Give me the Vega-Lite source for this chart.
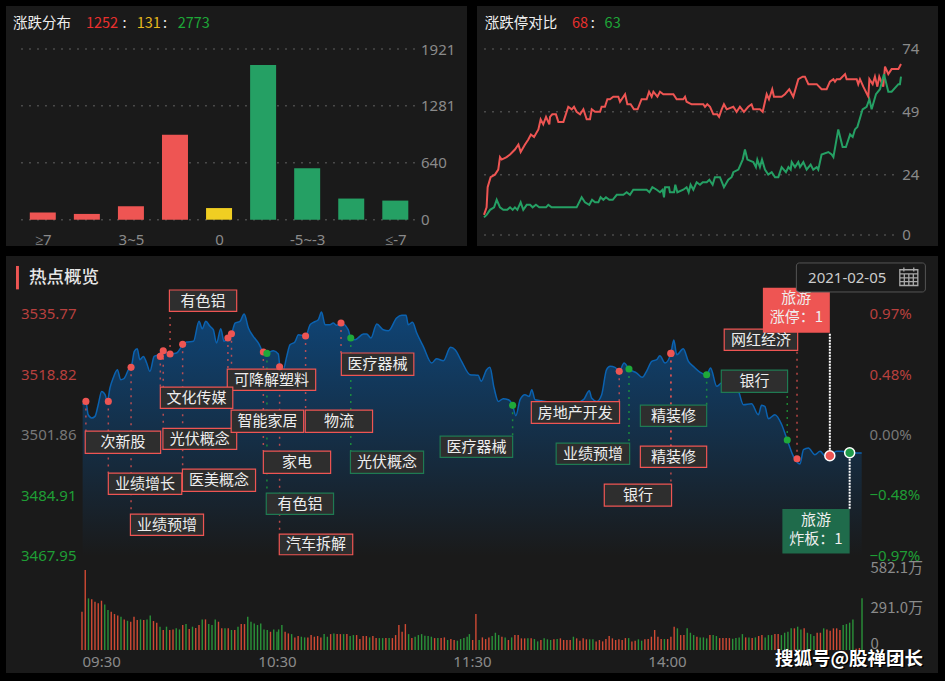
{
"$schema":"https://vega.github.io/schema/vega-lite/v6.json",
"background":"#000000",
"padding":{"left":6,"top":6,"right":7,"bottom":8},
"config":{"font":"Noto Sans CJK SC","view":{"stroke":null,"fill":"#1a1a1a"},"axis":{"domain":false,"ticks":false,"grid":false,"labelFont":"Noto Sans","labelFontSize":15,"labelColor":"#8a8a8a","labelPadding":0,"labelOverlap":false,"labelFlush":false,"labelBound":false}},
"datasets":{
"dist":[{"c":"≥7","pos":1,"n":80,"k":"up"},{"c":"5~7","pos":2,"n":65,"k":"up"},{"c":"3~5","pos":3,"n":150,"k":"up"},{"c":"0~3","pos":4,"n":957,"k":"up"},{"c":"0","pos":5,"n":131,"k":"flat"},{"c":"-3~0","pos":6,"n":1740,"k":"down"},{"c":"-5~-3","pos":7,"n":580,"k":"down"},{"c":"-7~-5","pos":8,"n":238,"k":"down"},{"c":"≤-7","pos":9,"n":215,"k":"down"}],
"limit":[
{"s":"up","t":0,"n":8},{"s":"up","t":1.5,"n":11},{"s":"up","t":2.1,"n":19},{"s":"up","t":3.8,"n":23},{"s":"up","t":6.3,"n":24},{"s":"up","t":8.2,"n":26},{"s":"up","t":9.2,"n":31},{"s":"up","t":10.2,"n":30},{"s":"up","t":13,"n":31},{"s":"up","t":15,"n":32},{"s":"up","t":17.8,"n":34},{"s":"up","t":19.8,"n":36},{"s":"up","t":21.1,"n":33},{"s":"up","t":23.6,"n":36},{"s":"up","t":25.5,"n":38},{"s":"up","t":27,"n":40},{"s":"up","t":28.8,"n":39},{"s":"up","t":31.3,"n":42},{"s":"up","t":32.6,"n":46},{"s":"up","t":34.1,"n":44},{"s":"up","t":35.7,"n":47},{"s":"up","t":37.6,"n":44},{"s":"up","t":38,"n":47},{"s":"up","t":39.3,"n":48},{"s":"up","t":41.4,"n":48},{"s":"up","t":42.8,"n":45},{"s":"up","t":45.7,"n":45},{"s":"up","t":48.5,"n":51},{"s":"up","t":50.5,"n":50},{"s":"up","t":51.8,"n":51},{"s":"up","t":53.3,"n":49},{"s":"up","t":55.3,"n":48},{"s":"up","t":57.2,"n":50},{"s":"up","t":59.1,"n":46},{"s":"up","t":61,"n":46},{"s":"up","t":62,"n":50},{"s":"up","t":63.9,"n":49},{"s":"up","t":66.8,"n":49},{"s":"up","t":67.7,"n":51},{"s":"up","t":69.6,"n":51},{"s":"up","t":71,"n":54},{"s":"up","t":72.5,"n":54},{"s":"up","t":74.4,"n":55},{"s":"up","t":77.3,"n":55},{"s":"up","t":78.3,"n":53},{"s":"up","t":81.2,"n":56},{"s":"up","t":82.5,"n":52},{"s":"up","t":84.4,"n":52},{"s":"up","t":86.3,"n":50},{"s":"up","t":88.4,"n":50},{"s":"up","t":90.7,"n":54},{"s":"up","t":93.6,"n":54},{"s":"up","t":95,"n":57},{"s":"up","t":96.5,"n":55},{"s":"up","t":97.5,"n":57},{"s":"up","t":99.8,"n":55},{"s":"up","t":101.3,"n":57},{"s":"up","t":103.2,"n":56},{"s":"up","t":109,"n":56},{"s":"up","t":110.9,"n":54},{"s":"up","t":114.7,"n":54},{"s":"up","t":115.7,"n":55},{"s":"up","t":116.6,"n":53},{"s":"up","t":119.5,"n":52},{"s":"up","t":120.9,"n":52},{"s":"up","t":126.2,"n":52},{"s":"up","t":127.2,"n":51},{"s":"up","t":128.5,"n":52},{"s":"up","t":130.1,"n":51},{"s":"up","t":132,"n":48},{"s":"up","t":134.3,"n":48},{"s":"up","t":135.3,"n":47},{"s":"up","t":136.8,"n":50},{"s":"up","t":138.1,"n":52},{"s":"up","t":139.7,"n":50},{"s":"up","t":143.5,"n":51},{"s":"up","t":145.4,"n":49},{"s":"up","t":147.3,"n":51},{"s":"up","t":149.6,"n":49},{"s":"up","t":152.1,"n":51},{"s":"up","t":154,"n":52},{"s":"up","t":155,"n":50},{"s":"up","t":158.8,"n":50},{"s":"up","t":160.4,"n":49},{"s":"up","t":162.7,"n":56},{"s":"up","t":164,"n":54},{"s":"up","t":165.9,"n":58},{"s":"up","t":166.9,"n":55},{"s":"up","t":171.3,"n":55},{"s":"up","t":173.2,"n":56},{"s":"up","t":175.7,"n":58},{"s":"up","t":178,"n":55},{"s":"up","t":180.9,"n":62},{"s":"up","t":183.4,"n":63},{"s":"up","t":184.7,"n":63},{"s":"up","t":186.7,"n":60},{"s":"up","t":191.5,"n":60},{"s":"up","t":194.3,"n":58},{"s":"up","t":197.2,"n":58},{"s":"up","t":199.1,"n":61},{"s":"up","t":201.1,"n":62},{"s":"up","t":202,"n":61},{"s":"up","t":203,"n":62},{"s":"up","t":204.9,"n":62},{"s":"up","t":207.8,"n":64},{"s":"up","t":208.7,"n":62},{"s":"up","t":214.5,"n":62},{"s":"up","t":215.4,"n":60},{"s":"up","t":216.4,"n":62},{"s":"up","t":218.3,"n":59},{"s":"up","t":221.2,"n":55},{"s":"up","t":221.8,"n":62},{"s":"up","t":223.7,"n":60},{"s":"up","t":225,"n":63},{"s":"up","t":226.4,"n":59},{"s":"up","t":227.5,"n":63},{"s":"up","t":229.8,"n":59},{"s":"up","t":230.8,"n":67},{"s":"up","t":232.7,"n":64},{"s":"up","t":234.6,"n":66},{"s":"up","t":236.5,"n":66},{"s":"up","t":238.5,"n":66},{"s":"up","t":240,"n":68},
{"s":"down","t":0,"n":7},{"s":"down","t":1.5,"n":8},{"s":"down","t":3.5,"n":10},{"s":"down","t":5.8,"n":11},{"s":"down","t":7.3,"n":14},{"s":"down","t":9.2,"n":11},{"s":"down","t":11.1,"n":10},{"s":"down","t":13.4,"n":10},{"s":"down","t":15,"n":11},{"s":"down","t":16.5,"n":10},{"s":"down","t":17.8,"n":11},{"s":"down","t":19.2,"n":10},{"s":"down","t":21.1,"n":13},{"s":"down","t":22.6,"n":10},{"s":"down","t":24.6,"n":12},{"s":"down","t":26.5,"n":12},{"s":"down","t":28,"n":11},{"s":"down","t":29.9,"n":12},{"s":"down","t":31.8,"n":11},{"s":"down","t":35.7,"n":11},{"s":"down","t":37,"n":12},{"s":"down","t":38.9,"n":11},{"s":"down","t":53.3,"n":11},{"s":"down","t":56.2,"n":15},{"s":"down","t":58.1,"n":13},{"s":"down","t":60.6,"n":12},{"s":"down","t":62.2,"n":14},{"s":"down","t":63.9,"n":13},{"s":"down","t":65.8,"n":13},{"s":"down","t":67.1,"n":15},{"s":"down","t":68.7,"n":14},{"s":"down","t":70.2,"n":15},{"s":"down","t":72.1,"n":14},{"s":"down","t":74.1,"n":14},{"s":"down","t":76.4,"n":16},{"s":"down","t":80.2,"n":16},{"s":"down","t":82.1,"n":17},{"s":"down","t":84,"n":16},{"s":"down","t":85.9,"n":18},{"s":"down","t":93.6,"n":18},{"s":"down","t":95.2,"n":17},{"s":"down","t":96.9,"n":19},{"s":"down","t":99.4,"n":18},{"s":"down","t":101.3,"n":17},{"s":"down","t":102.8,"n":18},{"s":"down","t":103.6,"n":15},{"s":"down","t":104.2,"n":19},{"s":"down","t":106.5,"n":19},{"s":"down","t":107,"n":17},{"s":"down","t":109.4,"n":17},{"s":"down","t":110.1,"n":20},{"s":"down","t":111.3,"n":17},{"s":"down","t":114.7,"n":18},{"s":"down","t":116.6,"n":19},{"s":"down","t":117.8,"n":17},{"s":"down","t":118.9,"n":20},{"s":"down","t":120.5,"n":18},{"s":"down","t":122.4,"n":21},{"s":"down","t":124.3,"n":20},{"s":"down","t":125.9,"n":21},{"s":"down","t":128.2,"n":21},{"s":"down","t":129.7,"n":22},{"s":"down","t":131.6,"n":20},{"s":"down","t":132.9,"n":23},{"s":"down","t":134.9,"n":23},{"s":"down","t":135.8,"n":23},{"s":"down","t":138.1,"n":19},{"s":"down","t":140.6,"n":22},{"s":"down","t":142.5,"n":23},{"s":"down","t":143.5,"n":25},{"s":"down","t":146.4,"n":26},{"s":"down","t":148.9,"n":30},{"s":"down","t":150.2,"n":34},{"s":"down","t":151.6,"n":30},{"s":"down","t":155,"n":29},{"s":"down","t":156.5,"n":27},{"s":"down","t":157.3,"n":30},{"s":"down","t":158.8,"n":27},{"s":"down","t":160,"n":30},{"s":"down","t":161.7,"n":26},{"s":"down","t":163.6,"n":24},{"s":"down","t":165.6,"n":25},{"s":"down","t":167.5,"n":23},{"s":"down","t":169.4,"n":23},{"s":"down","t":171.3,"n":27},{"s":"down","t":173.8,"n":25},{"s":"down","t":175.2,"n":27},{"s":"down","t":176.5,"n":26},{"s":"down","t":177.1,"n":29},{"s":"down","t":179,"n":27},{"s":"down","t":180.9,"n":29},{"s":"down","t":181.9,"n":27},{"s":"down","t":183.8,"n":29},{"s":"down","t":185.7,"n":26},{"s":"down","t":188,"n":28},{"s":"down","t":189.5,"n":26},{"s":"down","t":191.5,"n":27},{"s":"down","t":192.4,"n":26},{"s":"down","t":194.3,"n":32},{"s":"down","t":198.2,"n":33},{"s":"down","t":200.1,"n":32},{"s":"down","t":201.1,"n":31},{"s":"down","t":203.9,"n":42},{"s":"down","t":206.4,"n":35},{"s":"down","t":208.3,"n":35},{"s":"down","t":210.7,"n":40},{"s":"down","t":212.2,"n":39},{"s":"down","t":213.5,"n":42},{"s":"down","t":214.9,"n":43},{"s":"down","t":217.9,"n":50},{"s":"down","t":220.2,"n":51},{"s":"down","t":221.8,"n":54},{"s":"down","t":223.1,"n":50},{"s":"down","t":225.6,"n":56},{"s":"down","t":227.9,"n":58},{"s":"down","t":230.2,"n":64},{"s":"down","t":232.7,"n":57},{"s":"down","t":234.6,"n":57},{"s":"down","t":238.5,"n":60},{"s":"down","t":239.4,"n":60},{"s":"down","t":240,"n":63}
],
"price":[
{"t":0.2,"p":3510.27},{"t":1.2,"p":3511.2},{"t":1.9,"p":3507.46},{"t":3,"p":3506.53},{"t":4,"p":3507},{"t":5,"p":3510.27},{"t":6.05,"p":3514},{"t":7.1,"p":3513.07},{"t":7.8,"p":3511.2},{"t":8.6,"p":3514.94},{"t":9.6,"p":3517.74},{"t":10.9,"p":3520.08},{"t":11.9,"p":3517.27},{"t":12.9,"p":3517.55},{"t":14.3,"p":3520.08},{"t":15.3,"p":3521.48},{"t":16.1,"p":3525.22},{"t":17,"p":3525.96},{"t":17.8,"p":3522.88},{"t":18.9,"p":3523.81},{"t":19.9,"p":3521.94},{"t":20.9,"p":3519.61},{"t":22.2,"p":3523.81},{"t":23.5,"p":3524.28},{"t":25,"p":3525.4},{"t":27.1,"p":3524.47},{"t":29.1,"p":3524.75},{"t":30.7,"p":3526.62},{"t":32.2,"p":3527.83},{"t":34.3,"p":3528.02},{"t":36,"p":3533.62},{"t":37,"p":3531.57},{"t":38.1,"p":3533.62},{"t":39.4,"p":3532.22},{"t":40.4,"p":3531.29},{"t":41.4,"p":3527.55},{"t":42.7,"p":3531.57},{"t":43.7,"p":3528.02},{"t":44.9,"p":3528.95},{"t":46.1,"p":3530.35},{"t":47.1,"p":3533.16},{"t":48.6,"p":3533.62},{"t":49.9,"p":3535.68},{"t":51.2,"p":3531.76},{"t":52.7,"p":3529.42},{"t":54.3,"p":3527.55},{"t":55.8,"p":3525.03},{"t":56.8,"p":3524.75},{"t":58.9,"p":3525.4},{"t":60.4,"p":3524.47},{"t":60.9,"p":3521.01},{"t":61.9,"p":3520.08},{"t":63,"p":3523.81},{"t":64,"p":3527.08},{"t":65.5,"p":3527.83},{"t":66.6,"p":3529.89},{"t":68.8,"p":3529.51},{"t":70.2,"p":3532.69},{"t":71.2,"p":3533.34},{"t":72.7,"p":3534.09},{"t":73.7,"p":3536.24},{"t":74.8,"p":3532.69},{"t":76.3,"p":3532.69},{"t":77.3,"p":3533.16},{"t":78.4,"p":3532.5},{"t":79.7,"p":3533.16},{"t":81.9,"p":3531.29},{"t":82.7,"p":3528.95},{"t":84,"p":3528.49},{"t":86.6,"p":3530.07},{"t":87.6,"p":3530.07},{"t":88.9,"p":3528.95},{"t":90.7,"p":3532.88},{"t":92.7,"p":3531.29},{"t":94.3,"p":3531.01},{"t":96.8,"p":3534.56},{"t":98.4,"p":3535.31},{"t":99.7,"p":3535.31},{"t":100.4,"p":3532.69},{"t":101.7,"p":3533.34},{"t":103,"p":3530.35},{"t":105,"p":3526.62},{"t":107.6,"p":3521.94},{"t":109.1,"p":3523.16},{"t":111.2,"p":3522.6},{"t":113.4,"p":3526.34},{"t":114.8,"p":3525.68},{"t":116.8,"p":3522.41},{"t":119.4,"p":3518.68},{"t":121.9,"p":3518.49},{"t":122.8,"p":3516.81},{"t":124.5,"p":3520.08},{"t":125.5,"p":3520.73},{"t":126.8,"p":3514.94},{"t":128.1,"p":3511.2},{"t":129.6,"p":3511.95},{"t":131.2,"p":3511.67},{"t":132.5,"p":3510.08},{"t":133.5,"p":3507.18},{"t":134.8,"p":3511.67},{"t":136.3,"p":3513.07},{"t":137.6,"p":3512.6},{"t":138.4,"p":3514.47},{"t":139.4,"p":3511.67},{"t":141.4,"p":3511.39},{"t":145,"p":3510.73},{"t":150.1,"p":3510.27},{"t":154.3,"p":3511.67},{"t":156.1,"p":3514.19},{"t":156.8,"p":3512.14},{"t":158.4,"p":3511.2},{"t":159.9,"p":3513.07},{"t":161.4,"p":3520.08},{"t":162.5,"p":3521.01},{"t":164,"p":3520.73},{"t":165.3,"p":3519.61},{"t":166.8,"p":3521.94},{"t":168.3,"p":3520.26},{"t":170.7,"p":3519.14},{"t":172.4,"p":3517.93},{"t":173.7,"p":3519.61},{"t":175.3,"p":3522.41},{"t":176.8,"p":3522.88},{"t":177.8,"p":3524},{"t":179.4,"p":3521.94},{"t":181.2,"p":3524.65},{"t":182.1,"p":3528.39},{"t":183,"p":3524.28},{"t":185,"p":3525.96},{"t":186.6,"p":3522.41},{"t":188.1,"p":3521.01},{"t":190.1,"p":3519.42},{"t":192.2,"p":3518.68},{"t":193.4,"p":3520.54},{"t":195.3,"p":3515.41},{"t":196.8,"p":3516.34},{"t":200.4,"p":3515.41},{"t":202,"p":3514},{"t":203.5,"p":3510.27},{"t":206,"p":3510.55},{"t":208.1,"p":3507.46},{"t":209.1,"p":3510.08},{"t":210.1,"p":3509.8},{"t":211.2,"p":3506.34},{"t":213.2,"p":3507.46},{"t":215.3,"p":3504.66},{"t":217,"p":3500.36},{"t":218.9,"p":3495.78},{"t":220.9,"p":3493.64},{"t":222,"p":3497.65},{"t":223.5,"p":3498.12},{"t":225.5,"p":3496.25},{"t":227.1,"p":3497.19},{"t":228.6,"p":3495.97},{"t":230.1,"p":3495.97},{"t":232.2,"p":3497.19},{"t":233.7,"p":3497.19},{"t":236.3,"p":3496.81},{"t":239.9,"p":3496.72}
],
"ann":[
{"n":"有色铝","d":"r","big":0,"t":27.1,"pv":3524.47,"t0":26.9,"t1":47.6,"p0":3536.43,"p1":3542.41,"e":3536.43,"cx":37.2,"cy":3539.4},
{"n":"可降解塑料","d":"r","big":0,"t":44.9,"pv":3528.95,"t0":44.7,"t1":71.9,"p0":3514.28,"p1":3520.26,"e":3520.26,"cx":58.3,"cy":3517.3},
{"n":"文化传媒","d":"r","big":0,"t":24.1,"pv":3523.81,"t0":24.1,"t1":46.4,"p0":3509.24,"p1":3515.22,"e":3515.22,"cx":35.25,"cy":3512.2},
{"n":"光伏概念","d":"r","big":0,"t":25,"pv":3525.4,"t0":24.9,"t1":47.6,"p0":3497.75,"p1":3503.63,"e":3503.63,"cx":36.25,"cy":3500.7},
{"n":"医美概念","d":"r","big":0,"t":30.97,"pv":3527.18,"t0":30.9,"t1":53.4,"p0":3485.97,"p1":3492.24,"e":3492.24,"cx":42.15,"cy":3489.1},
{"n":"次新股","d":"r","big":0,"t":1.2,"pv":3511.2,"t0":1,"t1":24.2,"p0":3496.63,"p1":3502.88,"e":3502.88,"cx":12.6,"cy":3499.75},
{"n":"业绩增长","d":"r","big":0,"t":8.1,"pv":3511.2,"t0":8.1,"t1":30.7,"p0":3485.13,"p1":3491.11,"e":3491.11,"cx":19.4,"cy":3488.1},
{"n":"业绩预增","d":"r","big":0,"t":15.1,"pv":3520.73,"t0":14.9,"t1":37.4,"p0":3473.64,"p1":3479.62,"e":3479.62,"cx":26.15,"cy":3476.6},
{"n":"智能家居","d":"r","big":0,"t":46,"pv":3530.17,"t0":45.9,"t1":68.2,"p0":3502.51,"p1":3508.77,"e":3508.77,"cx":57.05,"cy":3505.6},
{"n":"物流","d":"r","big":0,"t":68.8,"pv":3529.51,"t0":68.7,"t1":89.4,"p0":3502.51,"p1":3508.77,"e":3508.77,"cx":79.05,"cy":3505.6},
{"n":"家电","d":"r","big":0,"t":55.8,"pv":3525.03,"t0":55.8,"t1":76.5,"p0":3491.02,"p1":3497.28,"e":3497.28,"cx":66.15,"cy":3494.15},
{"n":"有色铝","d":"g","big":0,"t":56.9,"pv":3524.65,"t0":56.7,"t1":77.4,"p0":3479.53,"p1":3485.51,"e":3485.51,"cx":67.05,"cy":3482.5},
{"n":"汽车拆解","d":"r","big":0,"t":60.8,"pv":3520.92,"t0":60.7,"t1":83.3,"p0":3468.22,"p1":3474.01,"e":3474.01,"cx":72,"cy":3471.1},
{"n":"医疗器械","d":"r","big":0,"t":79.7,"pv":3533.16,"t0":79.8,"t1":102.1,"p0":3518.49,"p1":3524.75,"e":3524.75,"cx":90.95,"cy":3521.6},
{"n":"光伏概念","d":"g","big":0,"t":82.7,"pv":3528.95,"t0":82.6,"t1":105.1,"p0":3491.02,"p1":3497.28,"e":3497.28,"cx":93.85,"cy":3494.15},
{"n":"医疗器械","d":"g","big":0,"t":132.5,"pv":3510.08,"t0":110.2,"t1":132.5,"p0":3495.5,"p1":3501.48,"e":3501.48,"cx":121.35,"cy":3498.5},
{"n":"房地产开发","d":"r","big":0,"t":165.3,"pv":3519.61,"t0":138.25,"t1":165.4,"p0":3505.03,"p1":3511.11,"e":3511.11,"cx":151.8,"cy":3508.05},
{"n":"业绩预增","d":"g","big":0,"t":168.3,"pv":3520.26,"t0":145.9,"t1":168.5,"p0":3493.54,"p1":3499.52,"e":3499.52,"cx":157.2,"cy":3496.5},
{"n":"精装修","d":"g","big":0,"t":192.2,"pv":3518.68,"t0":171.8,"t1":192.2,"p0":3504.19,"p1":3510.17,"e":3510.17,"cx":182,"cy":3507.2},
{"n":"精装修","d":"r","big":0,"t":181.2,"pv":3524.65,"t0":171.8,"t1":192.2,"p0":3492.7,"p1":3498.68,"e":3498.68,"cx":182,"cy":3495.7},
{"n":"银行","d":"r","big":0,"t":181.2,"pv":3524.65,"t0":160.7,"t1":181.4,"p0":3481.86,"p1":3488.03,"e":3488.03,"cx":171.05,"cy":3484.95},
{"n":"网红经济","d":"r","big":0,"t":220,"pv":3495.13,"t0":197.6,"t1":220.2,"p0":3525.5,"p1":3531.47,"e":3525.5,"cx":208.9,"cy":3528.5},
{"n":"银行","d":"g","big":0,"t":217,"pv":3500.36,"t0":196.7,"t1":217.1,"p0":3513.72,"p1":3519.98,"e":3513.72,"cx":206.9,"cy":3516.85},
{"n":"旅游\n涨停：1","d":"r","big":1,"t":230.1,"pv":3495.97,"t0":209.5,"t1":230.1,"p0":3530.45,"p1":3543.06,"e":3530.45,"cx":219.8,"cy":3540.16},
{"n":"旅游\n炸板：1","d":"g","big":1,"t":236.2,"pv":3496.81,"t0":215.5,"t1":236.2,"p0":3468.6,"p1":3481.02,"e":3481.02,"cx":225.85,"cy":3478.03}
],
"vol":[
{"t":0,"v":279,"d":"r"},{"t":1,"v":582,"d":"r"},{"t":2,"v":376,"d":"g"},{"t":3,"v":369,"d":"r"},{"t":4,"v":352,"d":"r"},{"t":5,"v":340,"d":"r"},{"t":6,"v":359,"d":"r"},{"t":7,"v":332,"d":"g"},{"t":8,"v":291,"d":"g"},{"t":9,"v":279,"d":"r"},{"t":10,"v":262,"d":"r"},{"t":11,"v":252,"d":"r"},{"t":12,"v":243,"d":"g"},{"t":13,"v":223,"d":"r"},{"t":14,"v":213,"d":"g"},{"t":15,"v":206,"d":"r"},{"t":16,"v":243,"d":"r"},{"t":17,"v":218,"d":"r"},{"t":18,"v":223,"d":"g"},{"t":19,"v":218,"d":"r"},{"t":20,"v":223,"d":"g"},{"t":21,"v":252,"d":"g"},{"t":22,"v":211,"d":"r"},{"t":23,"v":199,"d":"r"},{"t":24,"v":170,"d":"g"},{"t":25,"v":146,"d":"r"},{"t":26,"v":170,"d":"g"},{"t":27,"v":146,"d":"r"},{"t":28,"v":150,"d":"r"},{"t":29,"v":158,"d":"g"},{"t":30,"v":150,"d":"g"},{"t":31,"v":182,"d":"r"},{"t":32,"v":189,"d":"g"},{"t":33,"v":153,"d":"r"},{"t":34,"v":170,"d":"g"},{"t":35,"v":160,"d":"r"},{"t":36,"v":182,"d":"r"},{"t":37,"v":223,"d":"g"},{"t":38,"v":223,"d":"r"},{"t":39,"v":189,"d":"g"},{"t":40,"v":182,"d":"g"},{"t":41,"v":223,"d":"g"},{"t":42,"v":206,"d":"r"},{"t":43,"v":158,"d":"r"},{"t":44,"v":158,"d":"g"},{"t":45,"v":158,"d":"r"},{"t":46,"v":146,"d":"g"},{"t":47,"v":146,"d":"r"},{"t":48,"v":170,"d":"g"},{"t":49,"v":189,"d":"r"},{"t":50,"v":189,"d":"r"},{"t":51,"v":243,"d":"g"},{"t":52,"v":206,"d":"g"},{"t":53,"v":194,"d":"g"},{"t":54,"v":182,"d":"g"},{"t":55,"v":194,"d":"g"},{"t":56,"v":150,"d":"g"},{"t":57,"v":146,"d":"g"},{"t":58,"v":133,"d":"r"},{"t":59,"v":150,"d":"g"},{"t":60,"v":133,"d":"g"},{"t":60.5,"v":150,"d":"g"},{"t":61.5,"v":182,"d":"g"},{"t":62.5,"v":133,"d":"r"},{"t":63.5,"v":121,"d":"r"},{"t":64.5,"v":116,"d":"g"},{"t":65.5,"v":92,"d":"r"},{"t":66.5,"v":102,"d":"r"},{"t":67.5,"v":97,"d":"g"},{"t":68.5,"v":92,"d":"g"},{"t":69.5,"v":92,"d":"r"},{"t":70.5,"v":109,"d":"r"},{"t":71.5,"v":97,"d":"r"},{"t":72.5,"v":102,"d":"r"},{"t":73.5,"v":92,"d":"r"},{"t":74.5,"v":116,"d":"g"},{"t":75.5,"v":97,"d":"g"},{"t":76.5,"v":116,"d":"r"},{"t":77.5,"v":121,"d":"g"},{"t":78.5,"v":116,"d":"r"},{"t":79.5,"v":116,"d":"r"},{"t":80.5,"v":116,"d":"g"},{"t":81.5,"v":116,"d":"r"},{"t":82.5,"v":102,"d":"g"},{"t":83.5,"v":109,"d":"g"},{"t":84.5,"v":109,"d":"r"},{"t":85.5,"v":80,"d":"r"},{"t":86.5,"v":102,"d":"r"},{"t":87.5,"v":102,"d":"r"},{"t":88.5,"v":92,"d":"g"},{"t":89.5,"v":102,"d":"r"},{"t":90.5,"v":87,"d":"r"},{"t":91.5,"v":87,"d":"g"},{"t":92.5,"v":87,"d":"g"},{"t":93.5,"v":87,"d":"r"},{"t":94.5,"v":87,"d":"g"},{"t":95.5,"v":87,"d":"r"},{"t":96.5,"v":109,"d":"r"},{"t":97.5,"v":182,"d":"r"},{"t":98.5,"v":133,"d":"r"},{"t":99.5,"v":189,"d":"r"},{"t":100.5,"v":116,"d":"g"},{"t":101.5,"v":87,"d":"r"},{"t":102.5,"v":97,"d":"g"},{"t":103.5,"v":109,"d":"g"},{"t":104.5,"v":116,"d":"g"},{"t":105.5,"v":104,"d":"g"},{"t":106.5,"v":102,"d":"g"},{"t":107.5,"v":97,"d":"g"},{"t":108.5,"v":87,"d":"r"},{"t":109.5,"v":87,"d":"g"},{"t":110.5,"v":87,"d":"r"},{"t":111.5,"v":92,"d":"r"},{"t":112.5,"v":73,"d":"g"},{"t":113.5,"v":80,"d":"r"},{"t":114.5,"v":73,"d":"r"},{"t":115.5,"v":68,"d":"g"},{"t":116.5,"v":80,"d":"g"},{"t":117.5,"v":87,"d":"g"},{"t":118.5,"v":97,"d":"g"},
{"t":119.2,"v":116,"d":"g"},{"t":120.2,"v":73,"d":"r"},{"t":121.2,"v":262,"d":"r"},{"t":122.2,"v":73,"d":"g"},{"t":123.2,"v":92,"d":"r"},{"t":124.2,"v":80,"d":"r"},{"t":125.2,"v":92,"d":"r"},{"t":126.2,"v":102,"d":"g"},{"t":127.2,"v":126,"d":"g"},{"t":128.2,"v":109,"d":"g"},{"t":129.2,"v":97,"d":"r"},{"t":130.2,"v":92,"d":"g"},{"t":131.2,"v":73,"d":"r"},{"t":132.2,"v":92,"d":"g"},{"t":133.2,"v":109,"d":"r"},{"t":134.2,"v":109,"d":"r"},{"t":135.2,"v":85,"d":"r"},{"t":136.2,"v":85,"d":"r"},{"t":137.2,"v":85,"d":"g"},{"t":138.2,"v":85,"d":"r"},{"t":139.2,"v":80,"d":"g"},{"t":140.2,"v":63,"d":"g"},{"t":141.2,"v":73,"d":"r"},{"t":142.2,"v":85,"d":"g"},{"t":143.2,"v":78,"d":"g"},{"t":144.2,"v":73,"d":"g"},{"t":145.2,"v":78,"d":"r"},{"t":146.2,"v":80,"d":"g"},{"t":147.2,"v":85,"d":"r"},{"t":148.2,"v":73,"d":"r"},{"t":149.2,"v":73,"d":"r"},{"t":150.2,"v":73,"d":"r"},{"t":151.2,"v":97,"d":"g"},{"t":152.2,"v":85,"d":"r"},{"t":153.2,"v":68,"d":"r"},{"t":154.2,"v":85,"d":"r"},{"t":155.2,"v":78,"d":"r"},{"t":156.2,"v":78,"d":"g"},{"t":157.2,"v":78,"d":"g"},{"t":158.2,"v":63,"d":"r"},{"t":159.2,"v":73,"d":"r"},{"t":160.2,"v":63,"d":"r"},{"t":161.2,"v":80,"d":"r"},{"t":162.2,"v":102,"d":"r"},{"t":163.2,"v":85,"d":"r"},{"t":164.2,"v":73,"d":"r"},{"t":165.2,"v":78,"d":"r"},{"t":166.2,"v":73,"d":"r"},{"t":167.2,"v":87,"d":"r"},{"t":168.2,"v":87,"d":"g"},{"t":169.2,"v":63,"d":"r"},{"t":170.2,"v":68,"d":"r"},{"t":171.2,"v":78,"d":"g"},{"t":172.2,"v":68,"d":"g"},{"t":173.2,"v":78,"d":"r"},{"t":174.2,"v":80,"d":"r"},{"t":175.2,"v":97,"d":"r"},{"t":176.2,"v":146,"d":"r"},{"t":177.2,"v":97,"d":"r"},{"t":178.2,"v":80,"d":"r"},{"t":179.2,"v":80,"d":"g"},{"t":180.2,"v":80,"d":"r"},{"t":181.2,"v":97,"d":"r"},{"t":182.2,"v":170,"d":"r"},{"t":183.2,"v":158,"d":"g"},{"t":184.2,"v":109,"d":"r"},{"t":185.2,"v":109,"d":"r"},{"t":186.2,"v":158,"d":"g"},{"t":187.2,"v":126,"d":"g"},{"t":188.2,"v":109,"d":"g"},{"t":189.2,"v":97,"d":"r"},{"t":190.2,"v":92,"d":"g"},{"t":191.2,"v":92,"d":"g"},{"t":192.2,"v":85,"d":"g"},{"t":193.2,"v":109,"d":"r"},{"t":194.2,"v":109,"d":"g"},{"t":195.2,"v":102,"d":"g"},{"t":196.2,"v":87,"d":"r"},{"t":197.2,"v":87,"d":"r"},{"t":198.2,"v":87,"d":"r"},{"t":199.2,"v":87,"d":"r"},{"t":200.2,"v":82,"d":"g"},{"t":201.2,"v":87,"d":"g"},{"t":202.2,"v":92,"d":"g"},{"t":203.2,"v":116,"d":"g"},{"t":204.2,"v":92,"d":"r"},{"t":205.2,"v":92,"d":"g"},{"t":206.2,"v":87,"d":"r"},{"t":207.2,"v":92,"d":"g"},{"t":208.2,"v":102,"d":"r"},{"t":209.2,"v":109,"d":"r"},{"t":210.2,"v":92,"d":"g"},{"t":211.2,"v":109,"d":"g"},{"t":212.2,"v":109,"d":"g"},{"t":213.2,"v":116,"d":"r"},{"t":214.2,"v":116,"d":"r"},{"t":215.2,"v":109,"d":"g"},{"t":216.2,"v":126,"d":"g"},{"t":217.2,"v":133,"d":"g"},{"t":218.2,"v":158,"d":"g"},{"t":219.2,"v":158,"d":"r"},{"t":220.2,"v":170,"d":"g"},{"t":221.2,"v":150,"d":"g"},{"t":222.2,"v":158,"d":"r"},{"t":223.2,"v":126,"d":"g"},{"t":224.2,"v":116,"d":"g"},{"t":225.2,"v":102,"d":"g"},{"t":226.2,"v":126,"d":"r"},{"t":227.2,"v":126,"d":"r"},{"t":228.2,"v":158,"d":"g"},{"t":229.2,"v":150,"d":"r"},{"t":230.2,"v":141,"d":"r"},{"t":231.2,"v":158,"d":"r"},{"t":232.2,"v":158,"d":"r"},{"t":233.2,"v":146,"d":"r"},{"t":234.2,"v":182,"d":"g"},{"t":235.2,"v":189,"d":"g"},{"t":236.2,"v":199,"d":"g"},{"t":237.2,"v":223,"d":"g"},{"t":238.2,"v":10,"d":"r"},{"t":239.2,"v":15,"d":"r"},{"t":240,"v":376,"d":"g"}
]
},
"vconcat":[
{"hconcat":[
{"width":461,"height":240,
"layer":[
{"data":{"values":[{"a":0.505,"b":9.49,"v":0},{"a":0.505,"b":9.49,"v":640},{"a":0.505,"b":9.49,"v":1281},{"a":0.505,"b":9.49,"v":1921}]},
"mark":{"type":"rule","color":"#4a4a4a","strokeWidth":1.5,"strokeDash":[2,6]},
"encoding":{"x":{"field":"a","type":"quantitative","scale":{"domain":[0.165,10.627],"nice":false,"zero":false,"padding":0},
"axis":{"values":[1,3,5,7,9],"labelExpr":"['','≥7','','3~5','','0','','-5~-3','','≤-7'][datum.value]","offset":-13.5,"title":null}},
"x2":{"field":"b"},
"y":{"field":"v","type":"quantitative","scale":{"domain":[-296,2405],"nice":false,"zero":false},
"axis":{"orient":"right","values":[0,640,1281,1921],"format":"d","offset":-46.5,"title":null}}}},
{"data":{"name":"dist"},"mark":{"type":"bar","size":26},
"encoding":{"x":{"field":"pos","type":"quantitative"},"y":{"field":"n","type":"quantitative"},
"color":{"field":"k","type":"nominal","legend":null,"scale":{"domain":["up","flat","down"],"range":["#ee5553","#f0ce22","#25a064"]}}}},
{"data":{"values":[{"s":"涨跌分布","x":0.324,"y":2202,"k":"w"},{"s":"1252","x":1.98,"y":2202,"k":"r"},{"s":":","x":2.81,"y":2202,"k":"w"},{"s":"131","x":3.13,"y":2202,"k":"y"},{"s":":","x":3.73,"y":2202,"k":"w"},{"s":"2773","x":4.06,"y":2202,"k":"g"}]},
"mark":{"type":"text","align":"left","baseline":"middle","fontSize":14.5},
"encoding":{"x":{"field":"x","type":"quantitative"},"y":{"field":"y","type":"quantitative"},"text":{"field":"s"},
"color":{"field":"k","type":"nominal","legend":null,"scale":{"domain":["w","r","y","g"],"range":["#eeeeee","#e8302e","#e6b81e","#1ea838"]}}}}
],"resolve":{"scale":{"color":"independent"}}},
{"width":461,"height":240,
"layer":[
{"data":{"values":[{"a":0,"b":237.5,"v":0},{"a":0,"b":237.5,"v":24},{"a":0,"b":237.5,"v":49},{"a":0,"b":237.5,"v":74}]},
"mark":{"type":"rule","color":"#4a4a4a","strokeWidth":1.5,"strokeDash":[2,6]},
"encoding":{"x":{"field":"a","type":"quantitative","scale":{"domain":[-4.03,261.3],"nice":false,"zero":false},"axis":null},
"x2":{"field":"b"},
"y":{"field":"v","type":"quantitative","scale":{"domain":[-4.38,91.1],"nice":false,"zero":false},
"axis":{"orient":"right","values":[0,24,49,74],"format":"d","offset":-36.3,"title":null}}}},
{"data":{"name":"limit"},"mark":{"type":"line","strokeWidth":2,"interpolate":"linear"},
"encoding":{"x":{"field":"t","type":"quantitative","axis":null},"y":{"field":"n","type":"quantitative"},
"color":{"field":"s","type":"nominal","legend":null,"scale":{"domain":["up","down"],"range":["#ee5553","#25a064"]}},"order":{"field":"t"}}},
{"data":{"values":[{"s":"涨跌停对比","x":0.4,"y":83.9,"k":"w"},{"s":"68","x":50.6,"y":83.9,"k":"r"},{"s":":","x":61.4,"y":83.9,"k":"w"},{"s":"63","x":69.4,"y":83.9,"k":"g"}]},
"mark":{"type":"text","align":"left","baseline":"middle","fontSize":14.5},
"encoding":{"x":{"field":"x","type":"quantitative","axis":null},"y":{"field":"y","type":"quantitative"},"text":{"field":"s"},
"color":{"field":"k","type":"nominal","legend":null,"scale":{"domain":["w","r","g"],"range":["#eeeeee","#e8302e","#1ea838"]}}}}
],"resolve":{"scale":{"color":"independent"}}}
],"spacing":10},
{"width":932,"height":417,
"layer":[
{"data":{"name":"vol"},"mark":{"type":"bar","size":1.4},
"encoding":{"x":{"field":"t","type":"quantitative","scale":{"domain":[-23.38,263.38],"nice":false,"zero":false,"padding":0},
"axis":{"values":[0,60,120,180],"labelExpr":"{'0':'09:30','60':'10:30','120':'11:30','180':'14:00'}[datum.value]","labelAlign":{"condition":{"test":"datum.value==0","value":"left"},"value":"center"},"offset":-19,"title":null}},
"y":{"field":"v","type":"quantitative","scale":{"domain":[-167,2867],"nice":false,"zero":false},
"axis":{"orient":"right","values":[0,291,582.1],"labelExpr":"datum.value==0?'0':format(datum.value,'.1f')+'万'","labelFont":"Noto Sans CJK SC","labelOffset":{"condition":{"test":"datum.value==0","value":-7},"value":-3},"offset":-68,"title":null}},
"color":{"field":"d","type":"nominal","legend":null,"scale":{"domain":["r","g"],"range":["#d04a34","#2a9239"]}}}},
{"data":{"values":[{"pct":0.97},{"pct":0.48},{"pct":0},{"pct":-0.48},{"pct":-0.97}]},"mark":{"type":"point","opacity":0},
"encoding":{"x":{"datum":0,"type":"quantitative","axis":null},
"y":{"field":"pct","type":"quantitative","scale":{"domain":[-1.911,1.433],"nice":false,"zero":false},
"axis":{"orient":"right","values":[0.97,0.48,0,-0.48,-0.97],"labelExpr":"format(datum.value,'.2f')+'%'","labelColor":{"condition":[{"test":"datum.value>0","value":"#b8403e"},{"test":"datum.value<0","value":"#1f9e35"}],"value":"#777777"},"offset":-69,"title":null}}}},
{"layer":[
{"data":{"name":"price"},
"mark":{"type":"area","interpolate":"monotone","fill":{"x1":1,"y1":0,"x2":1,"y2":1,"gradient":"linear","stops":[{"offset":0,"color":"#0f4475"},{"offset":1,"color":"#1a1a1a"}]}},
"encoding":{"x":{"field":"t","type":"quantitative","axis":null},
"y":{"field":"p","type":"quantitative","scale":{"domain":[3435.08,3551.94],"nice":false,"zero":false},
"axis":{"orient":"left","values":[3467.95,3484.91,3501.86,3518.82,3535.77],"format":".2f","labelColor":{"condition":[{"test":"datum.value>3502","value":"#b8403e"},{"test":"datum.value<3501","value":"#1f9e35"}],"value":"#777777"},"offset":-70,"title":null}},
"y2":{"datum":3467.95}}},
{"data":{"name":"price"},"mark":{"type":"line","interpolate":"monotone","color":"#0b62b0","strokeWidth":1.5},
"encoding":{"x":{"field":"t","type":"quantitative","axis":null},"y":{"field":"p","type":"quantitative"}}},
{"data":{"name":"ann"},"transform":[{"filter":"datum.big==0"}],"mark":{"type":"rule","strokeWidth":1.5,"strokeDash":[2,5],"opacity":0.75},
"encoding":{"x":{"field":"t","type":"quantitative","axis":null},"y":{"field":"pv","type":"quantitative"},"y2":{"field":"e"},
"color":{"field":"d","type":"nominal","legend":null,"scale":{"domain":["r","g"],"range":["#ee5553","#1fa83a"]}}}},
{"data":{"name":"ann"},"transform":[{"filter":"datum.big==1"}],"mark":{"type":"rule","color":"#ffffff","strokeWidth":2,"strokeDash":[2,1]},
"encoding":{"x":{"field":"t","type":"quantitative","axis":null},"y":{"field":"pv","type":"quantitative"},"y2":{"field":"e"}}},
{"data":{"name":"ann"},"transform":[{"filter":"datum.big==0"}],"mark":{"type":"rect","fill":"#2e2e2e","strokeWidth":1.2},
"encoding":{"x":{"field":"t0","type":"quantitative","axis":null},"x2":{"field":"t1"},"y":{"field":"p0","type":"quantitative"},"y2":{"field":"p1"},
"stroke":{"field":"d","type":"nominal","legend":null,"scale":{"domain":["r","g"],"range":["#ee5553","#1f7a52"]}}}},
{"data":{"name":"ann"},"transform":[{"filter":"datum.big==1"}],"mark":{"type":"rect"},
"encoding":{"x":{"field":"t0","type":"quantitative","axis":null},"x2":{"field":"t1"},"y":{"field":"p0","type":"quantitative"},"y2":{"field":"p1"},
"fill":{"field":"d","type":"nominal","legend":null,"scale":{"domain":["r","g"],"range":["#ee5553","#1f6b4b"]}}}},
{"data":{"name":"ann"},"mark":{"type":"text","color":"#eeeeee","fontSize":15,"lineBreak":"\n","lineHeight":19,"baseline":"middle"},
"encoding":{"x":{"field":"cx","type":"quantitative","axis":null},"y":{"field":"cy","type":"quantitative"},"text":{"field":"n"}}},
{"data":{"name":"ann"},"transform":[{"filter":"datum.big==0"}],"mark":{"type":"point","filled":true,"size":50,"opacity":1},
"encoding":{"x":{"field":"t","type":"quantitative","axis":null},"y":{"field":"pv","type":"quantitative"},
"color":{"field":"d","type":"nominal","legend":null,"scale":{"domain":["r","g"],"range":["#ee5553","#1fa83a"]}}}},
{"data":{"name":"ann"},"transform":[{"filter":"datum.big==1"}],"mark":{"type":"point","filled":true,"size":100,"stroke":"#ffffff","strokeWidth":1.5,"opacity":1},
"encoding":{"x":{"field":"t","type":"quantitative","axis":null},"y":{"field":"pv","type":"quantitative"},
"fill":{"field":"d","type":"nominal","legend":null,"scale":{"domain":["r","g"],"range":["#ee5553","#1e9a4a"]}}}},
{"data":{"values":[{"a":-20.3,"b":-19.4,"u":3542.59,"w":3549.15}]},"mark":{"type":"rect","fill":"#ee5553"},
"encoding":{"x":{"field":"a","type":"quantitative","axis":null},"x2":{"field":"b"},"y":{"field":"u","type":"quantitative"},"y2":{"field":"w"}}},
{"data":{"values":[{"s":"热点概览","x":-16.3,"y":3545.87}]},"mark":{"type":"text","align":"left","baseline":"middle","fontSize":17.5,"fontWeight":500,"color":"#e6e6e6"},
"encoding":{"x":{"field":"x","type":"quantitative","axis":null},"y":{"field":"y","type":"quantitative"},"text":{"field":"s"}}},
{"data":{"values":[{"a":219.8,"b":259.5,"u":3541.86,"w":3549.99}]},"mark":{"type":"rect","fill":"#1a1a1a","stroke":"#555555","strokeWidth":1,"cornerRadius":3},
"encoding":{"x":{"field":"a","type":"quantitative","axis":null},"x2":{"field":"b"},"y":{"field":"u","type":"quantitative"},"y2":{"field":"w"}}},
{"data":{"values":[{"s":"2021-02-05","x":223.4,"y":3545.9}]},"mark":{"type":"text","align":"left","baseline":"middle","fontSize":15,"font":"Noto Sans","color":"#cccccc"},
"encoding":{"x":{"field":"x","type":"quantitative","axis":null},"y":{"field":"y","type":"quantitative"},"text":{"field":"s"}}},
{"data":{"values":[{"x":254.4,"y":3546.2}]},"mark":{"type":"point","shape":"M-1,-.75H1V1H-1Z M-1,-.3H1 M-1,.15H1 M-1,.58H1 M-.5,-.3V1 M0,-.3V1 M.5,-.3V1 M-.55,-1V-.55 M.55,-1V-.55","size":324,"stroke":"#aaaaaa","strokeWidth":1.3,"opacity":1},
"encoding":{"x":{"field":"x","type":"quantitative","axis":null},"y":{"field":"y","type":"quantitative"}}},
{"data":{"values":[{"s":"搜狐号@股禅团长","x":213.2,"y":3439.07}]},"mark":{"type":"text","align":"left","baseline":"middle","fontSize":18.5,"fontWeight":"bold","color":"#000000","dx":1.5,"dy":1.5},
"encoding":{"x":{"field":"x","type":"quantitative","axis":null},"y":{"field":"y","type":"quantitative"},"text":{"field":"s"}}},
{"data":{"values":[{"s":"搜狐号@股禅团长","x":213.2,"y":3439.07}]},"mark":{"type":"text","align":"left","baseline":"middle","fontSize":18.5,"fontWeight":"bold","color":"#ffffff"},
"encoding":{"x":{"field":"x","type":"quantitative","axis":null},"y":{"field":"y","type":"quantitative"},"text":{"field":"s"}}}
],"resolve":{"scale":{"color":"independent","fill":"independent","stroke":"independent"}}}
],
"resolve":{"scale":{"y":"independent","color":"independent"},"axis":{"y":"independent","x":"independent"}}}
],
"spacing":8
}
